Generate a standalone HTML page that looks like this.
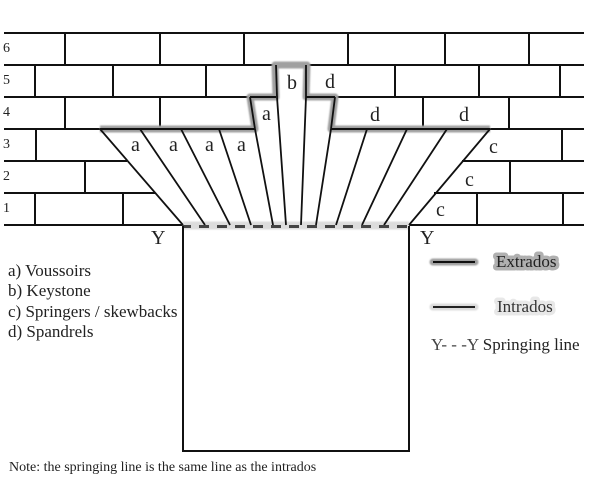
<!DOCTYPE html>
<html><head><meta charset="utf-8"><style>
html,body{margin:0;padding:0;background:#fff;width:600px;height:489px;overflow:hidden}
svg{display:block}
text{font-family:"Liberation Serif",serif;fill:#222}
</style></head><body>
<svg width="600" height="489" viewBox="0 0 600 489" xmlns="http://www.w3.org/2000/svg">
<defs><filter id="b" filterUnits="userSpaceOnUse" x="0" y="0" width="600" height="489"><feGaussianBlur stdDeviation="0.9"/></filter></defs>
<rect width="600" height="489" fill="#fff"/>
<!-- bricks -->
<g stroke="#111" stroke-width="2" fill="none">
<path d="M4 33H584M4 65H276M306 65H584M4 97H250M335 97H584M4 129H100M490 129H584M4 161H127M462 161H584M4 193H155M434 193H584M4 225H183M409 225H584"/>
<path d="M65 33V65M160 33V65M244 33V65M348 33V65M445 33V65M529 33V65"/>
<path d="M35 65V97M113 65V97M206 65V97M395 65V97M479 65V97M560 65V97"/>
<path d="M65 97V129M160 97V129M423 97V129M509 97V129"/>
<path d="M36 129V161M562 129V161"/>
<path d="M85 161V193M510 161V193"/>
<path d="M35 193V225M123 193V225M477 193V225M563 193V225"/>
</g>
<!-- halos -->
<path d="M100 129H255L250 97H276L275 65H307L306 97H335L331 129H490" fill="none" stroke="#a0a0a0" stroke-width="7" stroke-linejoin="round" filter="url(#b)"/>
<path d="M183 225.5H409" fill="none" stroke="#dcdcdc" stroke-width="8" filter="url(#b)"/>
<!-- arch -->
<g stroke="#111" stroke-width="1.8" fill="none">
<path d="M100 129L183 225M140 129L205 225M181 129L230 225M219 129L251 225M255 129L273 225M250 97L255 129M276 65L277 97L286 225"/>
<path d="M306 65L306 97L301 225M335 97L331 129L316 225M367 129L336 225M407 129L362 225M447 129L384 225M490 129L409 225"/>
<path d="M100 129H255M250 97H276M331 129H490M306 97H335" stroke-width="2"/>
</g>
<path d="M183 226.5H409" stroke="#444" stroke-width="3" stroke-dasharray="10 8" stroke-dashoffset="2" fill="none"/>
<!-- box -->
<path d="M183 226V451H409V226" fill="none" stroke="#111" stroke-width="2"/>
<!-- row numbers -->
<g font-size="14">
<text x="3" y="52">6</text><text x="3" y="84">5</text><text x="3" y="116">4</text><text x="3" y="148">3</text><text x="3" y="180">2</text><text x="3" y="212">1</text>
</g>
<!-- labels -->
<g font-size="20">
<text x="131" y="151">a</text><text x="169" y="151">a</text><text x="205" y="151">a</text><text x="237" y="151">a</text><text x="262" y="120">a</text>
<text x="287" y="89">b</text>
<text x="325" y="88">d</text><text x="370" y="121">d</text><text x="459" y="121">d</text>
<text x="489" y="153">c</text><text x="465" y="186">c</text><text x="436" y="216">c</text>
<text x="151" y="244">Y</text><text x="420" y="244">Y</text>
</g>
<!-- key -->
<g font-size="17">
<text x="8" y="276">a) Voussoirs</text>
<text x="8" y="296">b) Keystone</text>
<text x="8" y="317">c) Springers / skewbacks</text>
<text x="8" y="337">d) Spandrels</text>
</g>
<!-- legend -->
<path d="M433 262H475" stroke="#a0a0a0" stroke-width="7" stroke-linecap="round" filter="url(#b)"/>
<path d="M433 262H475" stroke="#111" stroke-width="2"/>
<path d="M433 307H475" stroke="#dcdcdc" stroke-width="7" stroke-linecap="round" filter="url(#b)"/>
<path d="M433 307H475" stroke="#222" stroke-width="2"/>
<text x="496" y="267" font-size="17" style="fill:#b0b0b0;stroke:#b0b0b0;stroke-width:7;stroke-linejoin:round">Extrados</text>
<text x="496" y="267" font-size="17">Extrados</text>
<text x="497" y="312" font-size="17" style="fill:#e8e8e8;stroke:#e8e8e8;stroke-width:7;stroke-linejoin:round">Intrados</text>
<text x="497" y="312" font-size="17" style="fill:#333">Intrados</text>
<text x="431" y="350" font-size="17"><tspan style="fill:#444">Y- - -Y</tspan> Springing line</text>
<text x="9" y="471" font-size="14">Note: the springing line is the same line as the intrados</text>
</svg>
</body></html>
